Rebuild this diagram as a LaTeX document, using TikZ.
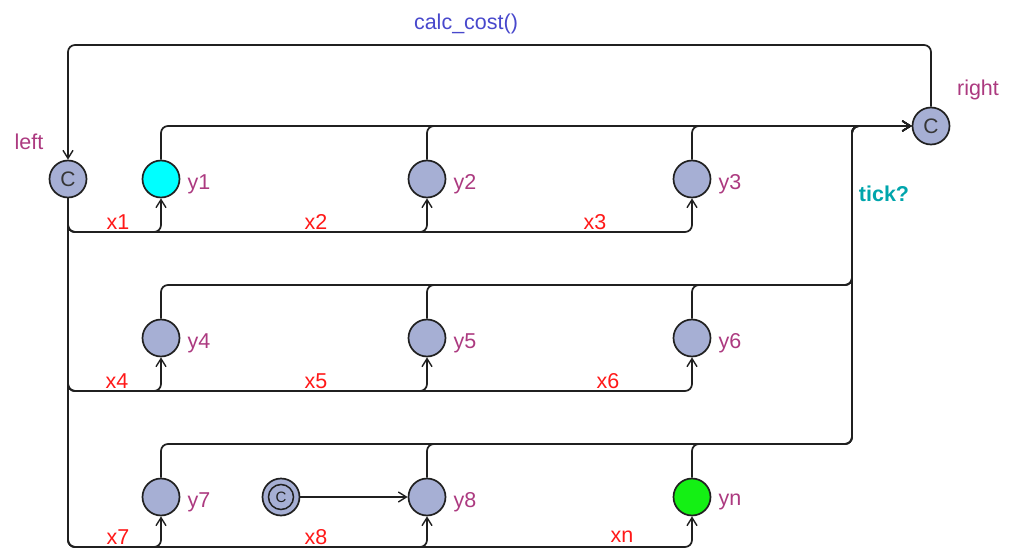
\documentclass[tikz,border=0pt]{standalone}
\usepackage{fontspec}
\setmainfont{Liberation Sans}
\usetikzlibrary{arrows.meta,calc}
\definecolor{locfill}{RGB}{166,175,212}
\definecolor{namecol}{RGB}{172,58,128}
\definecolor{guardred}{RGB}{255,24,24}
\definecolor{assigncol}{RGB}{72,72,204}
\definecolor{synccol}{RGB}{0,165,172}
\definecolor{edgecol}{RGB}{32,32,32}
\definecolor{cyanfill}{RGB}{0,255,255}
\definecolor{greenfill}{RGB}{20,240,20}
\tikzset{
  loc/.style={circle, draw=edgecol, line width=1.7pt, fill=locfill, minimum size=37pt, inner sep=0pt},
  committed/.style={loc, font=\fontsize{21}{21}\selectfont, text=edgecol!90},
  edge/.style={draw=edgecol, line width=1.7pt, rounded corners=7pt, -{Straight Barb[length=8pt,width=10pt,line width=1.4pt]}},
  lname/.style={inner sep=0pt, text=namecol, font=\fontsize{21.5}{21.5}\selectfont},
  guard/.style={inner sep=0pt, text=guardred, font=\fontsize{21.5}{21.5}\selectfont},
  assign/.style={inner sep=0pt, text=assigncol, font=\fontsize{21.5}{21.5}\selectfont},
  sync/.style={inner sep=0pt, text=synccol, font=\fontsize{21.5}{21.5}\selectfont\bfseries}
}
\begin{document}
\begin{tikzpicture}[x=1pt,y=-1pt]
\useasboundingbox (0,0) rectangle (1013,549);
% levels
\coordinate (T) at (500,45);
\coordinate (V) at (852,0);
\coordinate (t2) at (0,285);
\coordinate (t3) at (0,444);
\coordinate (b1) at (0,232);
\coordinate (b2) at (0,391);
\coordinate (b3) at (0,547);
% locations
\node[committed] (left) at (68,179) {C};
\node[committed] (right) at (931,126) {C};
\node[loc, fill=cyanfill] (y1) at (161,179) {};
\node[loc] (y2) at (427,179) {};
\node[loc] (y3) at (692,179) {};
\node[loc] (y4) at (161,338) {};
\node[loc] (y5) at (427,338) {};
\node[loc] (y6) at (692,338) {};
\node[loc] (y7) at (161,497) {};
\node[loc] (y8) at (427,497) {};
\node[loc, fill=greenfill] (yn) at (692,497) {};
\node[loc] (init) at (281,497) {};
\draw[edgecol, line width=1.5pt] (init) circle (12.5pt);
\node[inner sep=0pt, text=edgecol, font=\fontsize{15}{15}\selectfont] (initc) at (init) {C};
% location names
\node[lname] (nleft) at (29,142) {left};
\node[lname] (nright) at (978,90) {right};
\node[lname] (n1) at ($(y1)+(38,5)$) {y1};
\node[lname] (n2) at ($(y2)+(38,5)$) {y2};
\node[lname] (n3) at ($(y3)+(38,5)$) {y3};
\node[lname] (n4) at ($(y4)+(38,5)$) {y4};
\node[lname] (n5) at ($(y5)+(38,5)$) {y5};
\node[lname] (n6) at ($(y6)+(38,5)$) {y6};
\node[lname] (n7) at ($(y7)+(38,5)$) {y7};
\node[lname] (n8) at ($(y8)+(38,5)$) {y8};
\node[lname] (nn) at ($(yn)+(38,5)$) {yn};
% edges left -> y
\draw[edge] (left.south) |- (y1 |- b1) -- (y1.south);
\draw[edge] (left.south) |- (y2 |- b1) -- (y2.south);
\draw[edge] (left.south) |- (y3 |- b1) -- (y3.south);
\draw[edge] (left.south) |- (y4 |- b2) -- (y4.south);
\draw[edge] (left.south) |- (y5 |- b2) -- (y5.south);
\draw[edge] (left.south) |- (y6 |- b2) -- (y6.south);
\draw[edge] (left.south) |- (y7 |- b3) -- (y7.south);
\draw[edge] (left.south) |- (y8 |- b3) -- (y8.south);
\draw[edge] (left.south) |- (yn |- b3) -- (yn.south);
% edges y -> right
\draw[edge] (y1.north) |- (right.west);
\draw[edge] (y2.north) |- (right.west);
\draw[edge] (y3.north) |- (right.west);
\draw[edge] (y4.north) |- (V |- t2) |- (right.west);
\draw[edge] (y5.north) |- (V |- t2) |- (right.west);
\draw[edge] (y6.north) |- (V |- t2) |- (right.west);
\draw[edge] (y7.north) |- (V |- t3) |- (right.west);
\draw[edge] (y8.north) |- (V |- t3) |- (right.west);
\draw[edge] (yn.north) |- (V |- t3) |- (right.west);
% right -> left
\draw[edge] (right.north) |- (T) -| (left.north);
% initial -> y8
\draw[edge] (init.east) -- (y8.west);
% edge labels
\node[assign] (lc) at (466,24) {calc\_cost()};
\node[sync] (lt) at (884,194) {tick?};
\node[guard] (g1) at (118,222) {x1};
\node[guard] (g2) at (316,222) {x2};
\node[guard] (g3) at (595,222) {x3};
\node[guard] (g4) at (117,381) {x4};
\node[guard] (g5) at (316,381) {x5};
\node[guard] (g6) at (608,381) {x6};
\node[guard] (g7) at (118,537) {x7};
\node[guard] (g8) at (316,537) {x8};
\node[guard] (gn) at (622,537) {xn};
\end{tikzpicture}
\end{document}
